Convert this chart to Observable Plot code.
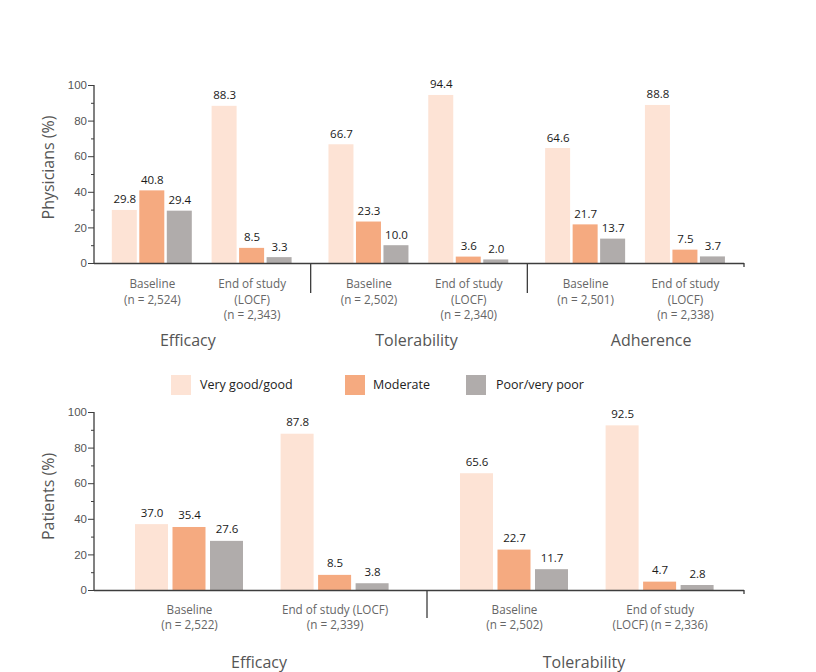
<!DOCTYPE html>
<html><head><meta charset="utf-8">
<script src="https://cdn.jsdelivr.net/npm/d3@7"></script>
<script src="https://cdn.jsdelivr.net/npm/@observablehq/plot@0.6"></script>
<style>
body{margin:0;background:#fff;font-family:"Open Sans",sans-serif;}
#wrap{width:816px;}
.legend{position:relative;height:40px;width:816px;}
.sw{position:absolute;top:15px;width:20px;height:20px;}
.lt{position:absolute;top:15px;line-height:20px;font-size:12.5px;color:#222;white-space:nowrap;}
</style></head><body><div id="wrap"></div>
<script>
// ---- data ----
const ratings = ["Very good/good", "Moderate", "Poor/very poor"];
const ratingColors = ["#fde3d5", "#f5aa80", "#b0acab"];
const times = ["Baseline", "End of study (LOCF)"];
const yTicks = [0, 20, 40, 60, 80, 100];
const yMinorTicks = [10, 30, 50, 70, 90];

// Physicians: order Efficacy-B, Efficacy-E, Tolerability-B, Tolerability-E, Adherence-B, Adherence-E
const physGroups = ["Efficacy", "Tolerability", "Adherence"];
const physVeryGood = [29.8, 88.3, 66.7, 94.4, 64.6, 88.8];
const physModerate = [40.8, 8.5, 23.3, 3.6, 21.7, 7.5];
const physPoor = [29.4, 3.3, 10.0, 2.0, 13.7, 3.7];
const physTickLabels = [
  "Baseline\n(n = 2,524)", "End of study\n(LOCF)\n(n = 2,343)",
  "Baseline\n(n = 2,502)", "End of study\n(LOCF)\n(n = 2,340)",
  "Baseline\n(n = 2,501)", "End of study\n(LOCF)\n(n = 2,338)"
];

// Patients: order Efficacy-B, Efficacy-E, Tolerability-B, Tolerability-E
const patGroups = ["Efficacy", "Tolerability"];
const patVeryGood = [37.0, 87.8, 65.6, 92.5];
const patModerate = [35.4, 8.5, 22.7, 4.7];
const patPoor = [27.6, 3.8, 11.7, 2.8];
const patTickLabels = [
  "Baseline\n(n = 2,522)", "End of study (LOCF)\n(n = 2,339)",
  "Baseline\n(n = 2,502)", "End of study\n(LOCF) (n = 2,336)"
];

function rowsFrom(groups, series) {
  const out = [];
  groups.forEach((g, gi) => times.forEach((t, ti) => ratings.forEach((r, k) =>
    out.push({group: g, time: t, rating: r, value: series[k][gi * 2 + ti]}))));
  return out;
}
function tickRowsFrom(groups, labels) {
  const out = [];
  groups.forEach((g, gi) => times.forEach((t, ti) => out.push({group: g, time: t, label: labels[gi * 2 + ti]})));
  return out;
}

const axisColor = "#3d3d3d";
const lw = 1.3;

function chart(cfg) {
  const W = 816, mL = 94, mR = 72;
  const facetW = (W - mL - mR) / cfg.groups.length;
  const plotH = cfg.height - cfg.marginTop - cfg.marginBottom;
  const B = 3 * cfg.barStep;
  const pi = 1 - B / cfg.spacing;
  const leftover = facetW - cfg.spacing * (2 - pi);
  const po = leftover / (2 * cfg.spacing);
  const align = (cfg.firstCenter - B / 2) / leftover;
  const pad = (cfg.barStep - cfg.barW) / 2;
  const marks = [];
  ratings.forEach((r, k) => {
    const rows = cfg.rows.filter(d => d.rating === r);
    marks.push(Plot.barY(rows, {
      fx: "group", x: "time", y: "value", fill: ratingColors[k],
      insetLeft: k * cfg.barStep + pad, insetRight: (2 - k) * cfg.barStep + pad
    }));
    marks.push(Plot.text(rows, {
      fx: "group", x: "time", y: "value", text: d => d3.format(".1f")(d.value),
      dx: (k - 1) * cfg.barStep, dy: -cfg.valueGap, lineAnchor: "bottom",
      fill: "#1a1a1a", fontSize: 11.5
    }));
  });
  marks.push(Plot.ruleY([0], {stroke: axisColor, strokeWidth: lw}));
  // y axis line
  marks.push(Plot.rect([cfg.groups[0]], {fx: d => d, fill: axisColor, insetRight: facetW - lw, dx: -lw / 2}));
  // group separators below the axis
  marks.push(Plot.rect(cfg.groups.slice(1), {
    fx: d => d, fill: axisColor, insetRight: facetW - lw, insetTop: plotH,
    insetBottom: -cfg.sepLen, dx: -lw / 2 + cfg.sepDx
  }));
  // end tick
  marks.push(Plot.rect([cfg.groups[cfg.groups.length - 1]], {
    fx: d => d, fill: axisColor, insetLeft: facetW - lw, insetTop: plotH, insetBottom: -4, dx: lw / 2
  }));
  marks.push(Plot.axisY({ticks: yTicks, tickSize: 6, tickPadding: 1.5, stroke: axisColor, fill: "#555",
    fontSize: 11.5, fontFamily: "'Liberation Sans', Arial, sans-serif", label: null}));
  marks.push(Plot.axisY({ticks: yMinorTicks, tickSize: 3, tickFormat: () => "", stroke: axisColor, label: null}));
  marks.push(Plot.text([cfg.yLabel], {
    fx: () => cfg.groups[0], text: d => d, frameAnchor: "left", rotate: -90,
    textAnchor: "middle", lineAnchor: "middle", dx: -46, dy: cfg.titleDy, fontSize: 16, fill: "#555"
  }));
  marks.push(Plot.text(cfg.tickRows, {
    fx: "group", x: "time", text: "label", frameAnchor: "bottom", lineAnchor: "top",
    dy: cfg.tickLabelDy, fill: "#666", fontSize: 11.7, lineHeight: 1.3
  }));
  cfg.groups.forEach((g, gi) => {
    marks.push(Plot.text([g], {
      fx: d => d, text: d => d, frameAnchor: "bottom", lineAnchor: "top", textAnchor: "middle",
      dx: cfg.groupDx[gi], dy: cfg.groupDy, fill: "#555", fontSize: 16
    }));
  });
  return Plot.plot({
    width: W, height: cfg.height,
    marginLeft: mL, marginRight: mR, marginTop: cfg.marginTop, marginBottom: cfg.marginBottom,
    style: {fontFamily: "'Open Sans', sans-serif", background: "#fff", overflow: "visible"},
    fx: {domain: cfg.groups, padding: 0, axis: null, round: false},
    x: {domain: times, paddingInner: pi, paddingOuter: po, align, axis: null, round: false},
    y: {domain: [0, 100]},
    marks
  });
}

const wrap = document.getElementById("wrap");
wrap.appendChild(chart({
  groups: physGroups,
  rows: rowsFrom(physGroups, [physVeryGood, physModerate, physPoor]),
  tickRows: tickRowsFrom(physGroups, physTickLabels),
  yLabel: "Physicians (%)",
  height: 360, marginTop: 85, marginBottom: 97,
  barW: 25, barStep: 27.5, spacing: 99.8, firstCenter: 57.8,
  sepLen: 30, sepDx: 0, valueGap: 7, tickLabelDy: 14, groupDy: 71.5, titleDy: -7,
  groupDx: [-15, -3, 15]
}));

const legend = document.createElement("div");
legend.className = "legend";
const swLeft = [171, 345, 466], txtLeft = [200, 373, 496];
ratings.forEach((r, k) => {
  const s = document.createElement("div");
  s.className = "sw"; s.style.left = swLeft[k] + "px"; s.style.background = ratingColors[k];
  const t = document.createElement("div");
  t.className = "lt"; t.style.left = txtLeft[k] + "px"; t.textContent = r;
  legend.appendChild(s); legend.appendChild(t);
});
wrap.appendChild(legend);

wrap.appendChild(chart({
  groups: patGroups,
  rows: rowsFrom(patGroups, [patVeryGood, patModerate, patPoor]),
  tickRows: tickRowsFrom(patGroups, patTickLabels),
  yLabel: "Patients (%)",
  height: 272, marginTop: 12, marginBottom: 82,
  barW: 33, barStep: 37.5, spacing: 145.6, firstCenter: 95,
  sepLen: 28, sepDx: 8, valueGap: 8, tickLabelDy: 12.7, groupDy: 66.2, titleDy: -5,
  groupDx: [2, 2]
}));
</script></body></html>
